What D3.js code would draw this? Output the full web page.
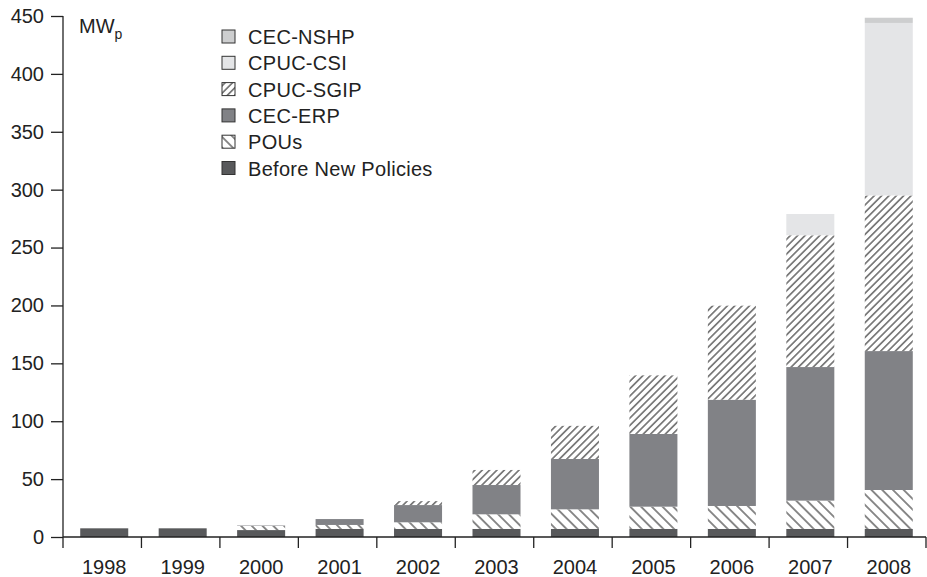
<!DOCTYPE html>
<html>
<head>
<meta charset="utf-8">
<script src="https://cdn.jsdelivr.net/npm/d3@7"></script>
<style>
  html, body { margin: 0; padding: 0; background: #fff; }
  svg { display: block; font-family: "Liberation Sans", Arial, Helvetica, sans-serif; }
</style>
</head>
<body>
<svg id="chart" width="927" height="577"></svg>
<script>
// ---- data ----
const years = ["1998","1999","2000","2001","2002","2003","2004","2005","2006","2007","2008"];
const beforeNewPolicies = [7.5, 7.5, 6, 7, 7, 7, 7, 7, 7, 7, 7];
const pous      = [0, 0, 3.5, 3.4, 5.7, 12.6, 16.9, 19.2, 19.8, 24.4, 33.6];
const cecErp    = [0, 0, 0.4, 5.1, 14.9, 25.3, 43.5, 62.8, 91.8, 115.4, 120];
const cpucSgip  = [0, 0, 0, 0, 3.4, 13, 28.6, 50.6, 81.2, 113.8, 134.4];
const cpucCsi   = [0, 0, 0, 0, 0, 0, 0, 0, 0, 18.4, 149];
const cecNshp   = [0, 0, 0, 0, 0, 0, 0, 0, 0, 0, 4.5];
const yTicks = [0, 50, 100, 150, 200, 250, 300, 350, 400, 450];
const seriesNames = ["Before New Policies", "POUs", "CEC-ERP", "CPUC-SGIP", "CPUC-CSI", "CEC-NSHP"];
const legendOrder = ["CEC-NSHP", "CPUC-CSI", "CPUC-SGIP", "CEC-ERP", "POUs", "Before New Policies"];

// ---- build table ----
const seriesValues = [beforeNewPolicies, pous, cecErp, cpucSgip, cpucCsi, cecNshp];
const table = years.map((y, i) => {
  const row = { year: y };
  seriesNames.forEach((s, k) => row[s] = seriesValues[k][i]);
  return row;
});
const stacked = d3.stack().keys(seriesNames)(table);

const svg = d3.select("#chart");
const defs = svg.append("defs");

function hatch(id, angle, spacing) {
  const p = defs.append("pattern")
    .attr("id", id)
    .attr("patternUnits", "userSpaceOnUse")
    .attr("width", spacing).attr("height", spacing)
    .attr("patternTransform", `rotate(${angle})`);
  p.append("rect").attr("width", spacing).attr("height", spacing).attr("fill", "#fff");
  p.append("line").attr("x1", spacing / 2).attr("x2", spacing / 2)
    .attr("y1", -1).attr("y2", spacing + 1)
    .attr("stroke", "#2e2e2e").attr("stroke-width", 1.1);
}
hatch("sgip", 45, 5.2);
hatch("pou", -45, 7.6);

const fills = {
  "Before New Policies": "#58595b",
  "POUs": "url(#pou)",
  "CEC-ERP": "#818286",
  "CPUC-SGIP": "url(#sgip)",
  "CPUC-CSI": "#e4e5e7",
  "CEC-NSHP": "#cdcecf"
};

const x = d3.scaleBand().domain(years).range([63, 926]).padding(0);
const y = d3.scaleLinear().domain([0, 450]).range([537, 16]);
const barW = x.bandwidth() * 0.612;
const barOff = (x.bandwidth() - barW) / 2 + 2;

// ---- bars ----
svg.append("g").selectAll("g")
  .data(stacked)
  .join("g")
  .attr("fill", d => fills[d.key])
  .selectAll("rect")
  .data(d => d.filter(v => v[1] - v[0] > 0))
  .join("rect")
  .attr("x", d => x(d.data.year) + barOff)
  .attr("width", barW)
  .attr("y", d => y(d[1]))
  .attr("height", d => y(d[0]) - y(d[1]));

// ---- y axis ----
const axisColor = "#222";
const yAxis = svg.append("g")
  .attr("transform", `translate(${x.range()[0]},0)`)
  .call(d3.axisLeft(y).tickValues(yTicks).tickSize(12).tickPadding(7).tickSizeOuter(0));
yAxis.select(".domain").remove();
yAxis.selectAll(".tick line").attr("stroke", axisColor).attr("stroke-width", 1.3);
yAxis.selectAll("text").attr("font-size", 20).attr("fill", "#222")
  .attr("font-family", "Liberation Sans, Arial, sans-serif");
svg.append("line")
  .attr("x1", x.range()[0]).attr("x2", x.range()[0])
  .attr("y1", y(450)).attr("y2", y(0) + 11)
  .attr("stroke", axisColor).attr("stroke-width", 1.3);

// ---- x axis ----
svg.append("line")
  .attr("x1", x.range()[0]).attr("x2", x.range()[1])
  .attr("y1", y(0)).attr("y2", y(0))
  .attr("stroke", axisColor).attr("stroke-width", 1.3);
const bounds = years.map(d => x(d) + x.bandwidth());
svg.append("g").selectAll("line")
  .data(bounds)
  .join("line")
  .attr("x1", d => d).attr("x2", d => d)
  .attr("y1", y(0)).attr("y2", y(0) + 11)
  .attr("stroke", axisColor).attr("stroke-width", 1.3);
const xAxis = svg.append("g")
  .attr("transform", `translate(${barOff + barW / 2 - x.bandwidth() / 2},${y(0)})`)
  .call(d3.axisBottom(x).tickSize(0).tickPadding(23));
xAxis.select(".domain").remove();
xAxis.selectAll("text").attr("font-size", 20).attr("fill", "#222")
  .attr("font-family", "Liberation Sans, Arial, sans-serif");

// ---- unit label ----
const unit = svg.append("text")
  .attr("x", 79).attr("y", 33)
  .attr("font-size", 20).attr("fill", "#222");
unit.append("tspan").text("MW");
unit.append("tspan").attr("font-size", 14).attr("dy", 6).text("p");

// ---- legend ----
const legend = svg.append("g");
const lg = legend.selectAll("g")
  .data(legendOrder)
  .join("g")
  .attr("transform", (d, i) => `translate(222, ${37 + i * 26.3})`);
lg.append("rect")
  .attr("x", 0).attr("y", -7).attr("width", 13).attr("height", 13)
  .attr("fill", d => fills[d])
  .attr("stroke", "#333").attr("stroke-width", 1);
lg.append("text")
  .attr("x", 26).attr("y", 0).attr("dy", "0.35em")
  .attr("font-size", 20).attr("fill", "#222")
  .attr("letter-spacing", 0.3)
  .text(d => d);
</script>
</body>
</html>
